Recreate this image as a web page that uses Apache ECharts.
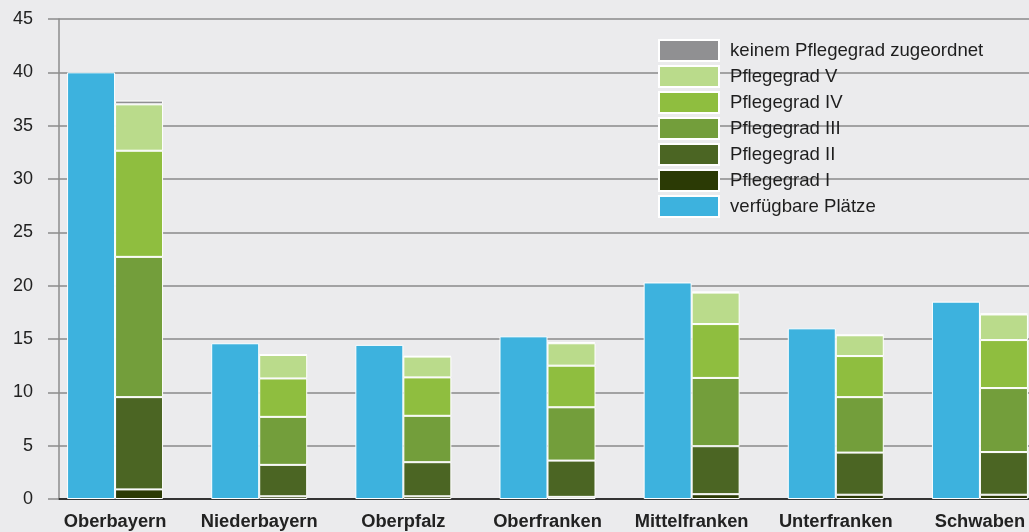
<!DOCTYPE html>
<html>
<head>
<meta charset="utf-8">
<script src="https://cdn.jsdelivr.net/npm/echarts@6/dist/echarts.min.js"></script>
<style>
  html, body { margin: 0; padding: 0; background: #ebebed; }
  #chart { width: 1029px; height: 532px; }
</style>
</head>
<body>
<div id="chart"></div>
<script>
// Regierungsbezirke
const categories = ['Oberbayern', 'Niederbayern', 'Oberpfalz', 'Oberfranken', 'Mittelfranken', 'Unterfranken', 'Schwaben']
// verfügbare Plätze (blau)
const plaetze = [40.0, 14.6, 14.45, 15.25, 20.3, 16.0, 18.5]
// belegte Plätze nach Pflegegrad (gestapelt)
const pg1 = [0.9, 0.25, 0.25, 0.2, 0.45, 0.4, 0.4]
const pg2 = [8.65, 2.95, 3.2, 3.4, 4.5, 3.95, 4.0]
const pg3 = [13.15, 4.5, 4.35, 5.0, 6.4, 5.2, 6.0]
const pg4 = [9.95, 3.6, 3.6, 3.9, 5.05, 3.85, 4.5]
const pg5 = [4.35, 2.2, 1.95, 2.1, 2.95, 1.95, 2.4]
const keinPg = [0.35, 0.05, 0.05, 0.1, 0.1, 0.05, 0.1]
const yTicks = [0, 5, 10, 15, 20, 25, 30, 35, 40, 45]

const names = ['keinem Pflegegrad zugeordnet', 'Pflegegrad V', 'Pflegegrad IV', 'Pflegegrad III', 'Pflegegrad II', 'Pflegegrad I', 'verfügbare Plätze']

const chartDom = document.getElementById('chart')
const chart = echarts.init(chartDom)

const font = 'Liberation Sans, Arial, sans-serif'
const stackSeries = (name, data, color) => ({
  name: name,
  type: 'bar',
  stack: 'belegt',
  xAxisIndex: 0,
  yAxisIndex: 0,
  barWidth: 48,
  barGap: '0%',
  itemStyle: { color: color, borderColor: '#ffffff', borderWidth: 1 },
  data: data
})

const options = {
  backgroundColor: '#ebebed',
  animation: false,
  textStyle: { fontFamily: font },
  grid: [
    // grid for the bars (bands are wider than the visible area)
    { left: 43, top: 19, bottom: 33, width: 1009, outerBoundsMode: 'none', containLabel: false },
    // grid for the visible frame: y axis, gridlines, base line
    { left: 59, top: 19, bottom: 33, right: 0, outerBoundsMode: 'none', containLabel: false }
  ],
  legend: {
    orient: 'vertical',
    left: 653,
    top: 34,
    icon: 'rect',
    itemWidth: 60,
    itemHeight: 21,
    itemGap: 3,
    data: names,
    textStyle: { fontSize: 18.6, color: '#1e1e1e', fontFamily: font, padding: [0, 0, 0, 6] }
  },
  xAxis: [
    {
      type: 'category',
      gridIndex: 0,
      data: categories,
      axisLine: { show: false },
      axisTick: { show: false },
      axisLabel: { interval: 0, color: '#222', fontSize: 18.3, fontWeight: 'bold', margin: 14, fontFamily: font }
    },
    {
      type: 'value',
      gridIndex: 1,
      min: 0,
      max: 1,
      axisLine: { show: true, lineStyle: { color: '#333', width: 2 } },
      axisTick: { show: false },
      axisLabel: { show: false },
      splitLine: { show: false }
    }
  ],
  yAxis: [
    {
      type: 'value',
      gridIndex: 0,
      min: 0,
      max: 45,
      interval: 5,
      axisLine: { show: false },
      axisTick: { show: false },
      axisLabel: { show: false },
      splitLine: { show: false }
    },
    {
      type: 'value',
      gridIndex: 1,
      min: yTicks[0],
      max: yTicks[yTicks.length - 1],
      interval: 5,
      z: 0,
      axisLine: { show: true, lineStyle: { color: '#8c8c8c', width: 1.5 } },
      axisTick: { show: true, length: 11, lineStyle: { color: '#8c8c8c', width: 1.5 } },
      axisLabel: { color: '#222', fontSize: 18, margin: 26, fontFamily: font },
      splitLine: { show: true, lineStyle: { color: '#8a8a8a', width: 1.5 } }
    }
  ],
  series: [
    {
      name: 'verfügbare Plätze',
      type: 'bar',
      xAxisIndex: 0,
      yAxisIndex: 0,
      barWidth: 48,
      barGap: '0%',
      itemStyle: { color: '#3db2de', borderColor: '#ffffff', borderWidth: 1 },
      data: plaetze
    },
    stackSeries('Pflegegrad I', pg1, '#2b3a05'),
    stackSeries('Pflegegrad II', pg2, '#4b6523'),
    stackSeries('Pflegegrad III', pg3, '#739e3b'),
    stackSeries('Pflegegrad IV', pg4, '#8fbe3f'),
    stackSeries('Pflegegrad V', pg5, '#badb8b'),
    stackSeries('keinem Pflegegrad zugeordnet', keinPg, '#909092')
  ]
}

chart.setOption(options)
window.addEventListener('resize', function () {
  chart && chart.resize()
})
</script>
</body>
</html>
